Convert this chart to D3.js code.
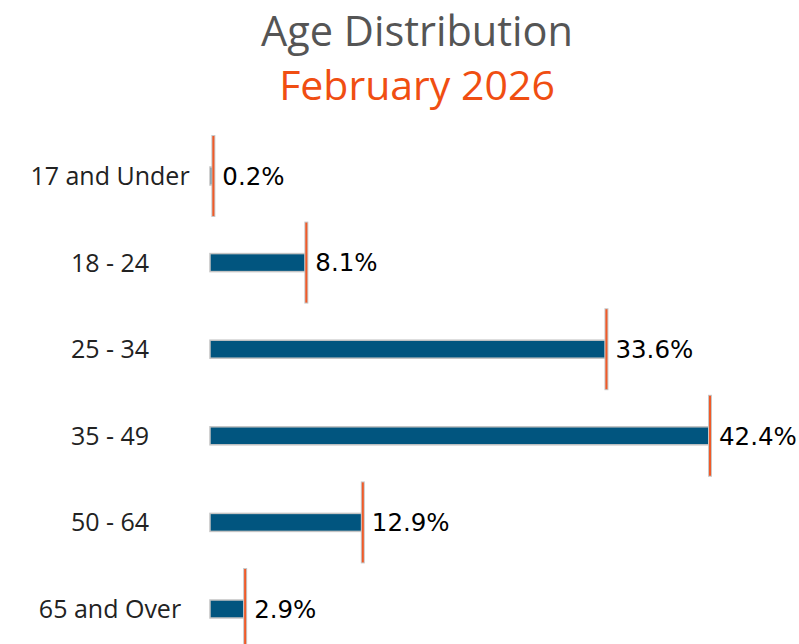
<!DOCTYPE html>
<html><head><meta charset="utf-8">
<script src="https://cdn.jsdelivr.net/npm/d3@7"></script>
<style>body{margin:0;background:#fff}</style>
</head><body>
<svg id="c" width="799" height="644"></svg>
<script>
const categories = ["17 and Under","18 - 24","25 - 34","35 - 49","50 - 64","65 and Over"];
const values = [0.2, 8.1, 33.6, 42.4, 12.9, 2.9];
const titleText = "Age Distribution";
const subtitleText = "February 2026";

const svg = d3.select("#c");
const x = d3.scaleLinear().domain([0, 42.4]).range([210, 709]);
const y = d3.scaleBand().domain(categories).range([132.7, 652.3]).padding(0);
const barH = 18;

svg.append("text").attr("x", 417).attr("y", 46).attr("text-anchor","middle")
  .attr("font-family","Open Sans").attr("font-size",41.5).attr("fill","#555555").text(titleText);
svg.append("text").attr("x", 417).attr("y", 100).attr("text-anchor","middle")
  .attr("font-family","Open Sans").attr("font-size",41).attr("fill","#f04e12").text(subtitleText);

const g = svg.append("g");
const rows = g.selectAll("g.row").data(categories).join("g").attr("class","row");
rows.append("rect")
  .attr("x", x(0))
  .attr("y", d => y(d) + y.bandwidth()/2 - barH/2)
  .attr("width", (d,i) => x(values[i]) - x(0))
  .attr("height", barH)
  .attr("fill", "#01557f")
  .attr("stroke", "#c4c4c4").attr("stroke-width", 1.5);
rows.append("line")
  .attr("x1", (d,i) => x(values[i]) + 1).attr("x2", (d,i) => x(values[i]) + 1)
  .attr("y1", d => y(d) + y.bandwidth()/2 - 41)
  .attr("y2", d => y(d) + y.bandwidth()/2 + 41)
  .attr("stroke", "#c8c8c8").attr("stroke-width", 4);
rows.append("line")
  .attr("x1", (d,i) => x(values[i]) + 1).attr("x2", (d,i) => x(values[i]) + 1)
  .attr("y1", d => y(d) + y.bandwidth()/2 - 40)
  .attr("y2", d => y(d) + y.bandwidth()/2 + 40)
  .attr("stroke", "#f05a28").attr("stroke-width", 2);
rows.append("text")
  .attr("x", (d,i) => x(values[i]) + 10)
  .attr("y", d => y(d) + y.bandwidth()/2)
  .attr("dy","0.36em")
  .attr("font-family","DejaVu Sans").attr("font-size",24.5).attr("fill","#000")
  .text((d,i) => values[i].toFixed(1) + "%");
rows.append("text")
  .attr("x", 110)
  .attr("y", d => y(d) + y.bandwidth()/2)
  .attr("dy","0.36em").attr("text-anchor","middle")
  .attr("font-family","Open Sans").attr("font-size",25).attr("fill","#222")
  .text(d => d);
</script>
</body></html>
